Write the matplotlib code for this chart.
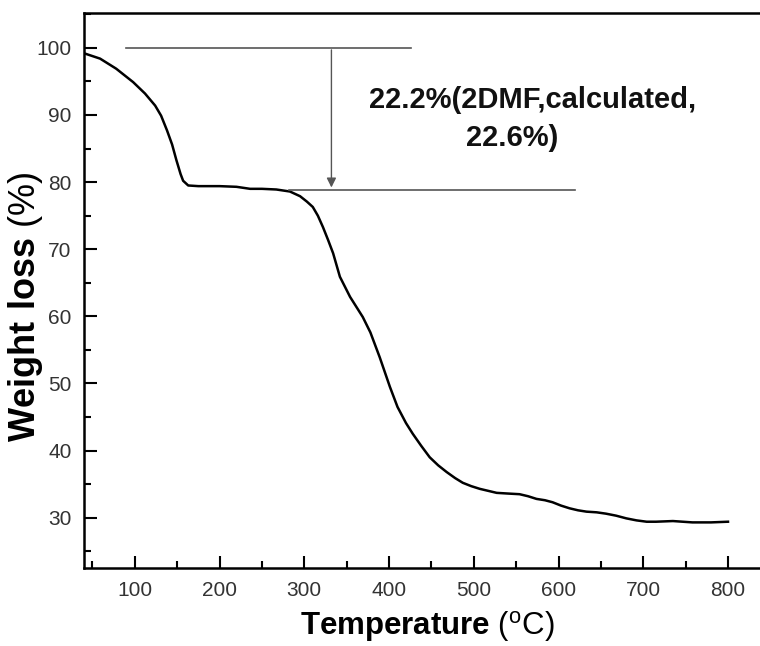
import matplotlib
matplotlib.use("Agg")
import matplotlib.pyplot as plt
from matplotlib.ticker import MultipleLocator

plt.rcParams['font.family'] = ['Liberation Sans', 'DejaVu Sans']
plt.rcParams['mathtext.fontset'] = 'custom'
plt.rcParams['mathtext.rm'] = 'Liberation Sans'
plt.rcParams['mathtext.bf'] = 'Liberation Sans:bold'

# TGA curve
temp = [40, 59, 78, 98, 112, 124, 131, 138, 144, 149, 154, 157, 163, 175, 200, 220,
        236, 250, 267, 283, 295, 303, 310, 316, 322, 328, 334, 342, 354, 369, 378,
        389, 401, 410, 420, 428, 438, 448, 458, 468, 478, 487, 497, 507, 517, 527,
        540, 554, 564, 574, 584, 593, 603, 613, 623, 633, 645, 656, 668, 680, 692,
        704, 715, 735, 758, 780, 800]
weight = [99.2, 98.4, 96.9, 94.9, 93.2, 91.4, 89.9, 87.7, 85.6, 83.3, 81.2, 80.2, 79.5,
          79.4, 79.4, 79.3, 79.0, 79.0, 78.9, 78.6, 77.9, 77.1, 76.3, 75.0, 73.3,
          71.4, 69.4, 65.9, 62.9, 59.9, 57.6, 53.9, 49.5, 46.5, 44.1, 42.5, 40.7,
          39.0, 37.8, 36.8, 35.9, 35.2, 34.7, 34.3, 34.0, 33.7, 33.6, 33.5, 33.2,
          32.8, 32.6, 32.3, 31.8, 31.4, 31.1, 30.9, 30.8, 30.6, 30.3, 29.9, 29.6,
          29.4, 29.4, 29.5, 29.3, 29.3, 29.4]

fig = plt.figure(figsize=(7.6, 6.46), dpi=100)
ax = fig.add_axes([0.1105, 0.1207, 0.892, 0.8592])

ax.plot(temp, weight, color='black', lw=1.8)

# annotation lines and arrow
ax.plot([90, 426], [100, 100], color='#555555', lw=1.2)
ax.plot([282, 620], [78.8, 78.8], color='#555555', lw=1.2)
ax.annotate('', xy=(332, 79.2), xytext=(332, 99.7),
            arrowprops=dict(arrowstyle='-|>', color='#555555', lw=1.0,
                            mutation_scale=14, shrinkA=0, shrinkB=0))
ax.text(569, 92.2, '22.2%(2DMF,calculated,', ha='center', va='center',
        fontsize=21, fontweight='bold', color='#111111')
ax.text(545, 86.5, '22.6%)', ha='center', va='center',
        fontsize=21, fontweight='bold', color='#111111')

ax.set_xlim(40, 840)
ax.set_ylim(22.5, 105.2)
ax.xaxis.set_minor_locator(MultipleLocator(50))
ax.yaxis.set_minor_locator(MultipleLocator(5))
ax.set_xticks([100, 200, 300, 400, 500, 600, 700, 800])
ax.set_yticks([30, 40, 50, 60, 70, 80, 90, 100])
ax.tick_params(which='both', direction='in', top=False, right=False,
               labelsize=15, labelcolor='#333333', width=1.5, pad=9)
ax.tick_params(which='major', length=9)
ax.tick_params(which='minor', length=5)
ax.spines['right'].set_visible(False)
for s in ['left', 'bottom', 'top']:
    ax.spines[s].set_linewidth(1.8)

ax.set_xlabel(r'$\mathbf{Temperature}$ ($^{\mathrm{o}}$C)', fontsize=22.5, va='center')
ax.set_ylabel(r'$\mathbf{Weight\ loss}$ (%)', fontsize=26, va='center')
ax.xaxis.set_label_coords(0.507, -0.106)
ax.yaxis.set_label_coords(-0.087, 0.47)

fig.savefig('out.png', dpi=100)
